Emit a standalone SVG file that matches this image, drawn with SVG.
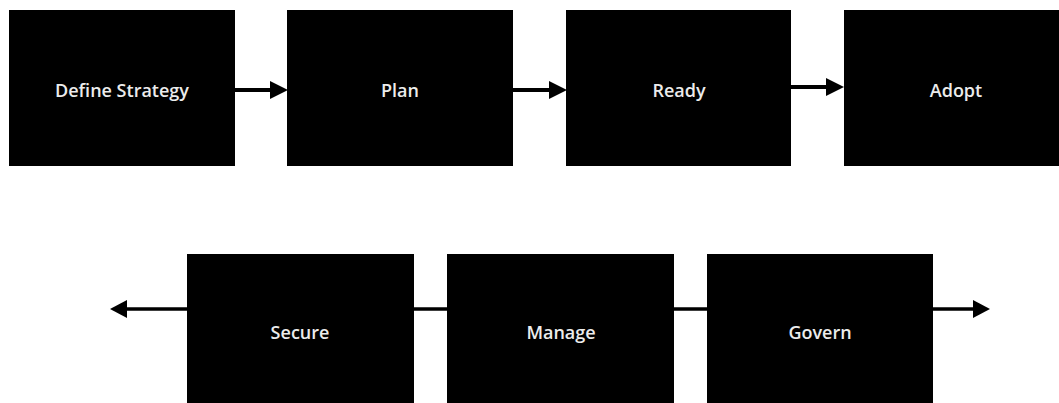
<svg xmlns="http://www.w3.org/2000/svg" width="1059" height="403" viewBox="0 0 1059 403">
<style>
.box{fill:#000}
.lbl{fill:#ececec;font-family:"Open Sans","Liberation Sans",sans-serif;font-size:18px;font-weight:600;text-anchor:middle;dominant-baseline:central}
.conn{stroke:#000;stroke-width:4;fill:none}
.conn2{stroke:#000;stroke-width:3.5;fill:none}
.head{fill:#000}
</style>
<rect width="1059" height="403" fill="#fff"/>
<g id="connectors">
<line class="conn" x1="235" y1="90" x2="272" y2="90"/>
<polygon class="head" points="270,81 288,90 270,99"/>
<line class="conn" x1="513" y1="90" x2="550" y2="90"/>
<polygon class="head" points="549,81 567,90 549,99"/>
<line class="conn" x1="791" y1="87" x2="828" y2="87"/>
<polygon class="head" points="826,78 844,87 826,96"/>
<line class="conn2" x1="187" y1="309" x2="124" y2="309"/>
<polygon class="head" points="127,300 110,309 127,318"/>
<line class="conn2" x1="414" y1="309" x2="447" y2="309"/>
<line class="conn2" x1="674" y1="309" x2="707" y2="309"/>
<line class="conn2" x1="933" y1="309" x2="976" y2="309"/>
<polygon class="head" points="973,300 990,309 973,318"/>
</g>
<g id="define-strategy"><rect class="box" x="9" y="10" width="226" height="156"/><text class="lbl" x="122" y="90">Define Strategy</text></g>
<g id="plan"><rect class="box" x="287" y="10" width="226" height="156"/><text class="lbl" x="400" y="90">Plan</text></g>
<g id="ready"><rect class="box" x="566" y="10" width="225" height="156"/><text class="lbl" x="679" y="90">Ready</text></g>
<g id="adopt"><rect class="box" x="844" y="10" width="215" height="156"/><text class="lbl" x="956" y="90">Adopt</text></g>
<g id="secure"><rect class="box" x="187" y="254" width="227" height="160"/><text class="lbl" x="300" y="332">Secure</text></g>
<g id="manage"><rect class="box" x="447" y="254" width="227" height="160"/><text class="lbl" x="561" y="332">Manage</text></g>
<g id="govern"><rect class="box" x="707" y="254" width="226" height="160"/><text class="lbl" x="820" y="332">Govern</text></g>
</svg>
